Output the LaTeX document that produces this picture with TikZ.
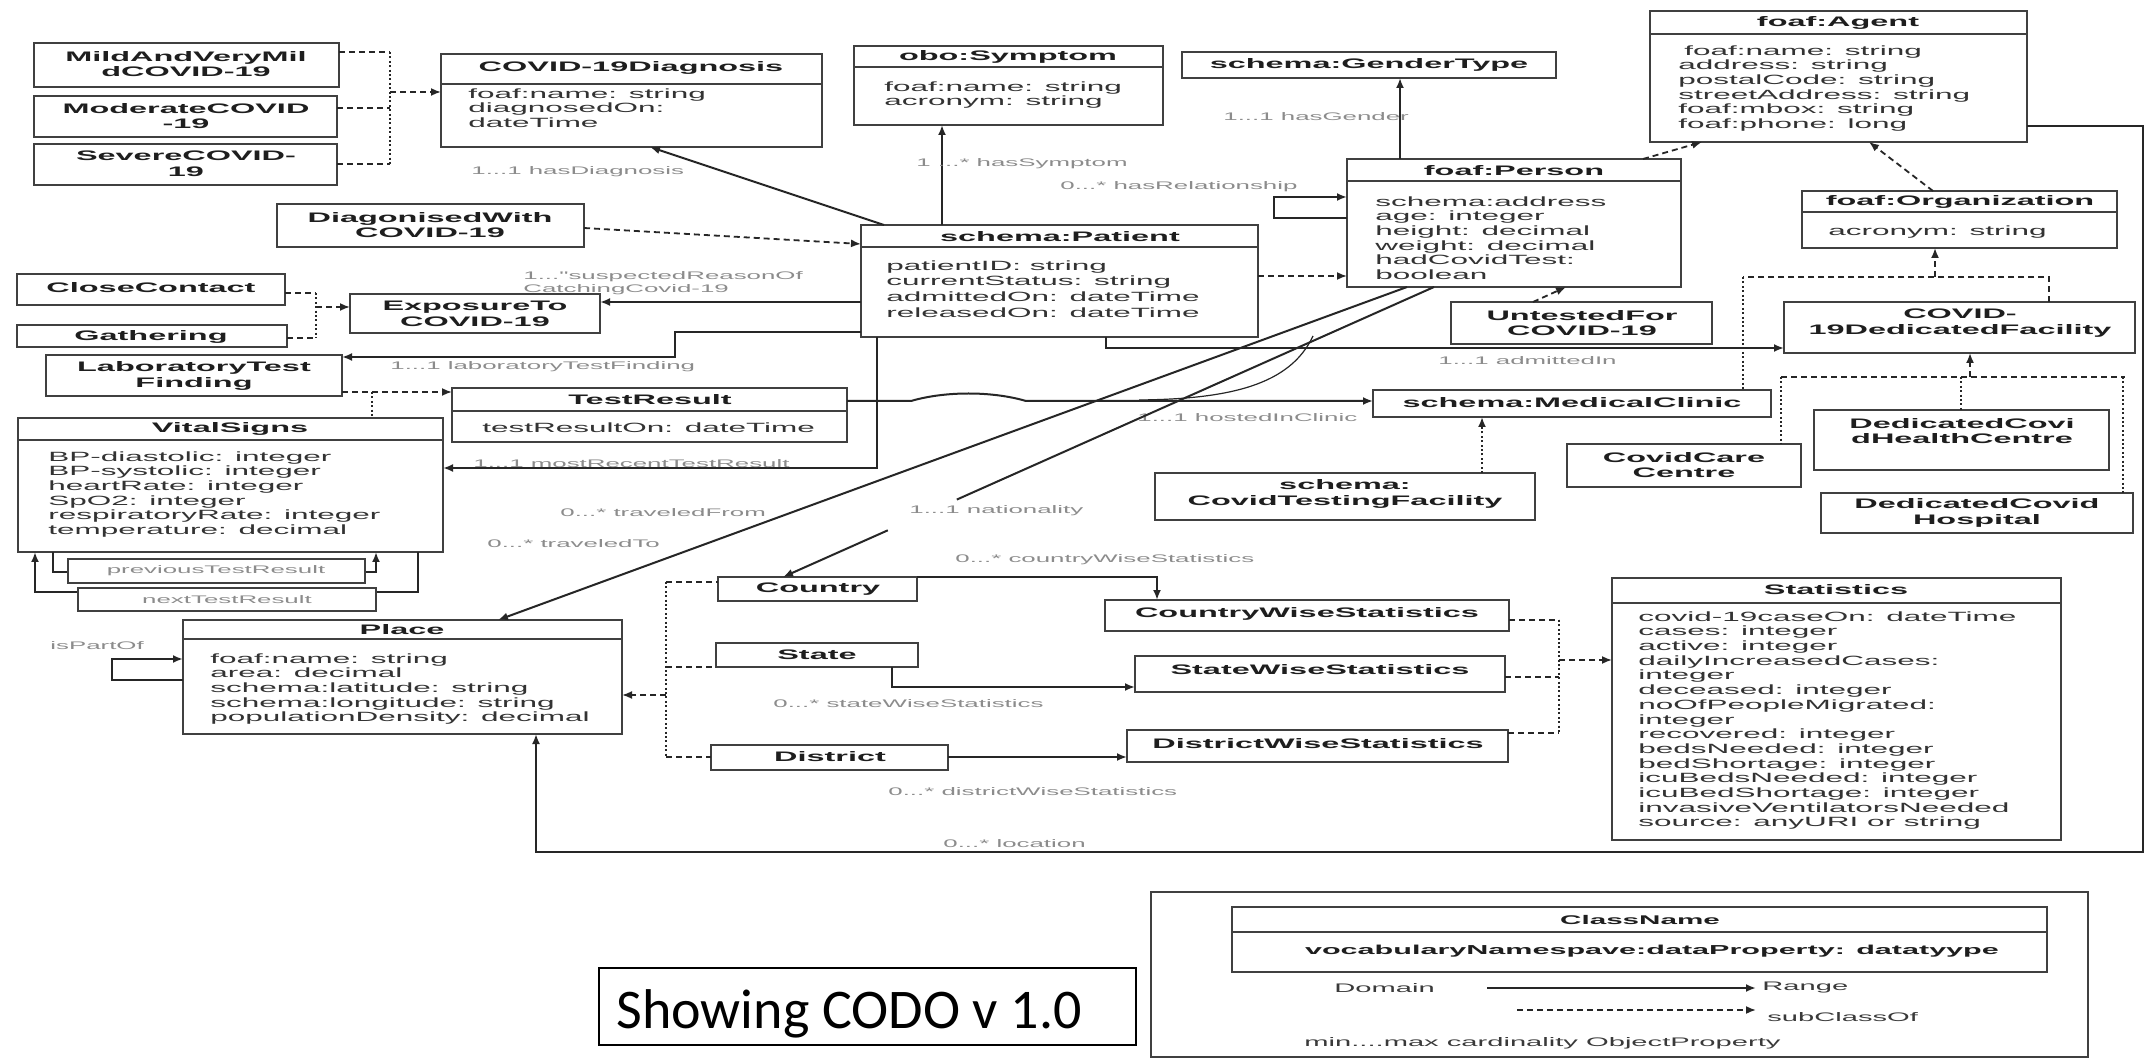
\documentclass[tikz,border=0pt]{standalone}
\usepackage{fontspec}
\usetikzlibrary{arrows.meta,calc}
\newfontfamily\dfont{Liberation Sans}[FakeStretch=2.35]
\newfontfamily\cfont{Carlito}
\definecolor{bc}{HTML}{404040}
\definecolor{tc}{HTML}{1E1E1E}
\definecolor{ac}{HTML}{333333}
\definecolor{lc}{HTML}{8C8C8C}
\definecolor{cc}{HTML}{262626}
\definecolor{gc}{HTML}{3A3A3A}
\tikzset{
 cls/.style={draw=bc, line width=0.8pt, inner sep=0pt, outer sep=0pt, anchor=north west},
 ttl/.style={font=\dfont\bfseries\fontsize{6.9}{7.8}\selectfont, text=tc, align=center, inner sep=0pt},
 attr/.style={font=\dfont\fontsize{6.7}{7.35}\selectfont, text=ac, align=left, inner sep=0pt, anchor=north west},
 lbl/.style={font=\dfont\fontsize{5.5}{6.5}\selectfont, text=lc, inner sep=0pt, anchor=west, align=left},
 lgd/.style={font=\dfont\fontsize{6.2}{7}\selectfont, text=gc, inner sep=0pt, anchor=west},
 conn/.style={draw=cc, line width=1pt},
 tip/.style={-{Latex[length=5pt,width=4pt]}},
 sub/.style={draw=cc, line width=0.9pt, dash pattern=on 3pt off 2pt},
 dotv/.style={draw=cc, line width=1.2pt, dash pattern=on 1pt off 1.2pt},
}
\newcommand{\cbox}[5]{\node[cls, minimum width={(#4-#2)*0.5pt}, minimum height={(#5-#3)*0.5pt}] (#1) at (#2,#3) {};}
\newcommand{\hdr}[2]{\draw[draw=bc, line width=0.8pt] (#1.west |- 0,#2) -- (#1.east |- 0,#2);}
\begin{document}
\begin{tikzpicture}[x=0.5pt,y=-0.5pt]
\useasboundingbox (0,0) rectangle (2146,1063);
\fill[white] (0,0) rectangle (2146,1063);

% ---------- classes ----------
\cbox{mild}{34}{43}{339}{87}
\node[ttl] (mildT) at (186,64) {MildAndVeryMil\\dCOVID-19};
\cbox{moder}{34}{96}{337}{137}
\node[ttl] (moderT) at (186,116) {ModerateCOVID\\-19};
\cbox{severe}{34}{144}{337}{185}
\node[ttl] (severeT) at (186,164) {SevereCOVID-\\19};

\cbox{diag}{441}{54}{822}{147}
\hdr{diag}{84}
\node[ttl] (diagT) at (631,68) {COVID-19Diagnosis};
\node[attr] (diagA) at (468,88) {foaf:name: string\\diagnosedOn:\\dateTime};

\cbox{symp}{854}{46}{1163}{125}
\hdr{symp}{67}
\node[ttl] (sympT) at (1008,57) {obo:Symptom};
\node[attr] (sympA) at (884,81) {foaf:name: string\\acronym: string};

\cbox{gend}{1182}{52}{1556}{78}
\node[ttl] (gendT) at (1369,65) {schema:GenderType};

\cbox{agent}{1650}{11}{2027}{142}
\hdr{agent}{34}
\node[ttl] (agentT) at (1838,23) {foaf:Agent};
\node[attr] (agentA) at (1678,45) {\hspace*{3pt}foaf:name: string\\address: string\\postalCode: string\\streetAddress: string\\foaf:mbox: string\\foaf:phone: long};

\cbox{pers}{1347}{159}{1681}{287}
\hdr{pers}{181}
\node[ttl] (persT) at (1514,171) {foaf:Person};
\node[attr] (persA) at (1375,196) {schema:address\\age: integer\\height: decimal\\weight: decimal\\hadCovidTest:\\boolean};

\cbox{org}{1802}{191}{2117}{248}
\hdr{org}{212}
\node[ttl] (orgT) at (1960,202) {foaf:Organization};
\node[attr] (orgA) at (1828,225) {acronym: string};

\cbox{pat}{861}{225}{1258}{337}
\hdr{pat}{247}
\node[ttl] (patT) at (1060,237) {schema:Patient};
\node[attr, font=\dfont\fontsize{6.7}{7.9}\selectfont] (patA) at (886,260) {patientID: string\\currentStatus: string\\admittedOn: dateTime\\releasedOn: dateTime};

\cbox{dgw}{277}{204}{584}{247}
\node[ttl] (dgwT) at (430,225) {DiagonisedWith\\COVID-19};

\cbox{close}{17}{274}{285}{305}
\node[ttl] (closeT) at (151,288) {CloseContact};
\cbox{gath}{17}{325}{287}{347}
\node[ttl] (gathT) at (151,337) {Gathering};
\cbox{expo}{350}{294}{600}{333}
\node[ttl] (expoT) at (475,314) {ExposureTo\\COVID-19};
\cbox{lab}{46}{355}{342}{396}
\node[ttl] (labT) at (194,376) {LaboratoryTest\\Finding};

\cbox{tres}{452}{388}{847}{442}
\hdr{tres}{411}
\node[ttl] (tresT) at (650,400) {TestResult};
\node[attr] (tresA) at (482,422) {testResultOn: dateTime};

\cbox{vital}{18}{418}{443}{552}
\hdr{vital}{440}
\node[ttl] (vitalT) at (230,429) {VitalSigns};
\node[attr] (vitalA) at (48,451) {BP-diastolic: integer\\BP-systolic: integer\\heartRate: integer\\SpO2: integer\\respiratoryRate: integer\\temperature: decimal};

\cbox{place}{183}{620}{622}{734}
\hdr{place}{639}
\node[ttl] (placeT) at (402,630) {Place};
\node[attr] (placeA) at (210,653) {foaf:name: string\\area: decimal\\schema:latitude: string\\schema:longitude: string\\populationDensity: decimal};

\cbox{country}{718}{577}{917}{601}
\node[ttl] (countryT) at (818,589) {Country};
\cbox{state}{716}{643}{918}{667}
\node[ttl] (stateT) at (817,655) {State};
\cbox{district}{711}{745}{948}{770}
\node[ttl] (districtT) at (830,757) {District};

\cbox{cws}{1105}{600}{1509}{631}
\node[ttl] (cwsT) at (1307,614) {CountryWiseStatistics};
\cbox{sws}{1135}{656}{1505}{692}
\node[ttl] (swsT) at (1320,670) {StateWiseStatistics};
\cbox{dws}{1127}{730}{1508}{762}
\node[ttl] (dwsT) at (1318,744) {DistrictWiseStatistics};

\cbox{stat}{1612}{578}{2061}{840}
\hdr{stat}{603}
\node[ttl] (statT) at (1836,590) {Statistics};
\node[attr] (statA) at (1638,611) {covid-19caseOn: dateTime\\cases: integer\\active: integer\\dailyIncreasedCases:\\integer\\deceased: integer\\noOfPeopleMigrated:\\integer\\recovered: integer\\bedsNeeded: integer\\bedShortage: integer\\icuBedsNeeded: integer\\icuBedShortage: integer\\invasiveVentilatorsNeeded\\source: anyURI or string};

\cbox{mc}{1373}{390}{1771}{417}
\node[ttl] (mcT) at (1572,403) {schema:MedicalClinic};
\cbox{ctf}{1155}{473}{1535}{520}
\node[ttl] (ctfT) at (1345,494) {schema:\\CovidTestingFacility};
\cbox{fac}{1784}{302}{2135}{353}
\node[ttl] (facT) at (1960,323) {COVID-\\19DedicatedFacility};
\cbox{care}{1567}{444}{1801}{487}
\node[ttl] (careT) at (1684,465) {CovidCare\\Centre};
\cbox{hc}{1814}{410}{2109}{470}
\node[ttl] (hcT) at (1962,431) {DedicatedCovi\\dHealthCentre};
\cbox{hosp}{1821}{493}{2133}{533}
\node[ttl] (hospT) at (1977,513) {DedicatedCovid\\Hospital};
\cbox{unt}{1451}{302}{1712}{344}
\node[ttl] (untT) at (1582,323) {UntestedFor\\COVID-19};

% ---------- subclass links ----------
\coordinate (sv1t) at (390,52); \coordinate (sv1b) at (390,164); \coordinate (sv1m) at (390,92);
\draw[sub] (mild.east |- sv1t) -- (sv1t);
\draw[sub] (moder.east |- 0,108) -- (sv1t |- 0,108);
\draw[sub] (severe.east |- sv1b) -- (sv1b);
\draw[dotv] (sv1t) -- (sv1b);
\draw[sub,tip] (sv1m) -- (diag.west |- sv1m);

\coordinate (sv2t) at (316,293); \coordinate (sv2b) at (316,338); \coordinate (sv2m) at (316,307);
\draw[sub] (close.east |- sv2t) -- (sv2t);
\draw[sub] (gath.east |- sv2b) -- (sv2b);
\draw[dotv] (sv2t) -- (sv2b);
\draw[sub,tip] (sv2m) -- (expo.west |- sv2m);

\draw[sub,tip] (dgw.east |- 0,228) -- (pat.west |- 0,244);
\draw[sub,tip] (lab.east |- 0,392) -- (tres.west |- 0,392);
\draw[dotv] (372,392) -- (vital.north -| 372,0);

\draw[sub,tip] (pat.east |- 0,276) -- (pers.west |- 0,276);
\draw[sub,tip] (pers.north -| 1643,0) -- (agent.south -| 1702,0);
\draw[sub,tip] (org.north -| 1933,0) -- (agent.south -| 1869,0);
\draw[sub,tip] (unt.north -| 1533,0) -- (pers.south -| 1566,0);

\coordinate (so1) at (1743,277); \coordinate (so2) at (2049,277); \coordinate (so3) at (1935,277);
\draw[sub] (fac.north -| so2) -- (so2) -- (so1);
\draw[dotv] (so1) -- (mc.north -| so1);
\draw[sub,tip] (so3) -- (org.south -| so3);

\coordinate (sf1) at (1781,377); \coordinate (sf2) at (2125,377);
\draw[sub] (sf1) -- (sf2);
\draw[dotv] (sf1) -- (care.north -| sf1);
\draw[dotv] (1961,377) -- (hc.north -| 1961,0);
\draw[dotv] (2123,377) -- (hosp.north -| 2123,0);
\draw[sub,tip] (1970,377) -- (fac.south -| 1970,0);

\draw[dotv,tip] (ctf.north -| 1482,0) -- (mc.south -| 1482,0);

\coordinate (sp1) at (666,582); \coordinate (sp2) at (666,757);
\draw[sub] (sp1) -- (country.west |- sp1);
\draw[sub] (666,667) -- (state.west |- 0,667);
\draw[sub] (sp2) -- (district.west |- sp2);
\draw[dotv] (sp1) -- (sp2);
\draw[sub,tip] (666,695) -- (place.east |- 0,695);

\coordinate (ss1) at (1559,620); \coordinate (ss2) at (1559,733);
\draw[sub] (cws.east |- ss1) -- (ss1);
\draw[sub] (sws.east |- 0,677) -- (1559,677);
\draw[sub] (dws.east |- ss2) -- (ss2);
\draw[dotv] (ss1) -- (ss2);
\draw[sub,tip] (1559,660) -- (stat.west |- 0,660);

% ---------- object properties ----------
\draw[conn,tip] (pat.north -| 884,0) -- (diag.south -| 650,0);
\node[lbl] (lHasDiag) at (471,172) {1...1 hasDiagnosis};

\draw[conn,tip] (pat.north -| 942,0) -- (symp.south -| 942,0);
\node[lbl] (lHasSym) at (916,164) {1 ...* hasSymptom};

\draw[conn,tip] (pat.west |- 0,302) -- (expo.east |- 0,302);
\node[lbl, anchor=north west] (lSusp) at (523,271) {1..."suspectedReasonOf\\CatchingCovid-19};

\draw[conn,tip] (pat.west |- 0,332) -- (675,332) -- (675,357) -- (lab.east |- 0,357);
\node[lbl] (lLab) at (390,367) {1...1 laboratoryTestFinding};

\draw[conn,tip] (pat.south -| 877,0) -- (877,468) -- (vital.east |- 0,468);
\node[lbl] (lMost) at (473,464) {1...1 mostRecentTestResult};

\draw[conn,tip] (tres.east |- 0,401) -- (911,401) .. controls (945,391) and (992,391) .. (1026,401) -- (mc.west |- 0,401);
\node[lbl] (lHost) at (1137,418) {1...1 hostedInClinic};
\draw[draw=cc, line width=0.6pt] (1313,336) .. controls (1290,385) and (1230,399) .. (1139,400);

\draw[conn,tip] (pat.south -| 1106,0) -- (1106,348) -- (fac.west |- 0,348);
\node[lbl] (lAdm) at (1438,361) {1...1 admittedIn};

\draw[conn,tip] (pers.west |- 0,218) -- (1274,218) -- (1274,197) -- (pers.west |- 0,197);
\node[lbl] (lRel) at (1060,187) {0...* hasRelationship};

\draw[conn,tip] (pers.north -| 1400,0) -- (gend.south -| 1400,0);
\node[lbl] (lGen) at (1223,117) {1...1 hasGender};

\draw[conn,tip] (pers.south -| 1407,0) -- (place.north -| 498,0);
\node[lbl] (lFrom) at (560,513) {0...* traveledFrom};
\node[lbl] (lTo) at (487,544) {0...* traveledTo};

\coordinate (nb1) at (pers.south -| 1434,0);
\coordinate (nb2) at (country.north -| 783,0);
\draw[conn] (nb1) -- ($(nb1)!0.733!(nb2)$);
\draw[conn,tip] ($(nb1)!0.839!(nb2)$) -- (nb2);
\node[lbl] (lNat) at (909,511) {1...1 nationality};

\draw[conn,tip] (country.north east) -- (1157,577) -- (cws.north -| 1157,0);
\node[lbl] (lCws) at (955,560) {0...* countryWiseStatistics};
\draw[conn,tip] (state.south -| 892,0) -- (892,687) -- (sws.west |- 0,687);
\node[lbl] (lSws) at (773,704) {0...* stateWiseStatistics};
\draw[conn,tip] (district.east |- 0,757) -- (dws.west |- 0,757);
\node[lbl] (lDws) at (888,792) {0...* districtWiseStatistics};

\draw[conn,tip] (agent.east |- 0,126) -- (2143,126) -- (2143,852) -- (536,852) -- (place.south -| 536,0);
\node[lbl] (lLoc) at (943,844) {0...* location};

\draw[conn,tip] (place.west |- 0,680) -- (112,680) -- (112,659) -- (place.west |- 0,659);
\node[lbl] (lPart) at (50,646) {isPartOf};

\draw[conn,tip] (vital.south -| 53,0) -- (53,572) -- (376,572) -- (vital.south -| 376,0);
\draw[conn,tip] (vital.south -| 418,0) -- (418,592) -- (35,592) -- (vital.south -| 35,0);
\node[cls, fill=white, minimum width=148.5pt, minimum height=12pt] (prevB) at (68,559) {};
\node[lbl, anchor=center] (prevT) at (216,571) {previousTestResult};
\node[cls, fill=white, minimum width=149pt, minimum height=11.5pt] (nextB) at (78,588) {};
\node[lbl, anchor=center] (nextT) at (227,600) {nextTestResult};

% ---------- legend ----------
\cbox{leg}{1151}{892}{2088}{1057}
\cbox{cn}{1232}{907}{2047}{972}
\hdr{cn}{932}
\node[ttl, font=\dfont\bfseries\fontsize{6.3}{7}\selectfont] (cnT) at (1640,920) {ClassName};
\node[ttl, font=\dfont\bfseries\fontsize{6.5}{7}\selectfont] (cnA) at (1652,951) {vocabularyNamespave:dataProperty: datatyype};
\node[lgd] (ldom) at (1334,988) {Domain};
\node[lgd] (lrng) at (1762,988) {Range};
\coordinate (la1) at (1487,988); \coordinate (la2) at (1756,988);
\draw[conn,tip] (la1) -- (la2);
\coordinate (lb1) at (1517,1010); \coordinate (lb2) at (1756,1010);
\draw[sub,tip] (lb1) -- (lb2);
\node[lgd] (lsub) at (1767,1017) {subClassOf};
\node[lgd] (lmin) at (1304,1043) {min....max cardinality ObjectProperty};

\node[draw=black, line width=0.8pt, inner sep=0pt, outer sep=0pt, anchor=north west, minimum width=268.5pt, minimum height=38.5pt] (show) at (599,968) {};
\node[font=\cfont\fontsize{28}{30}\selectfont, anchor=base west, inner sep=0pt] (showT) at (616,1028) {Showing CODO v 1.0};
\end{tikzpicture}
\end{document}
